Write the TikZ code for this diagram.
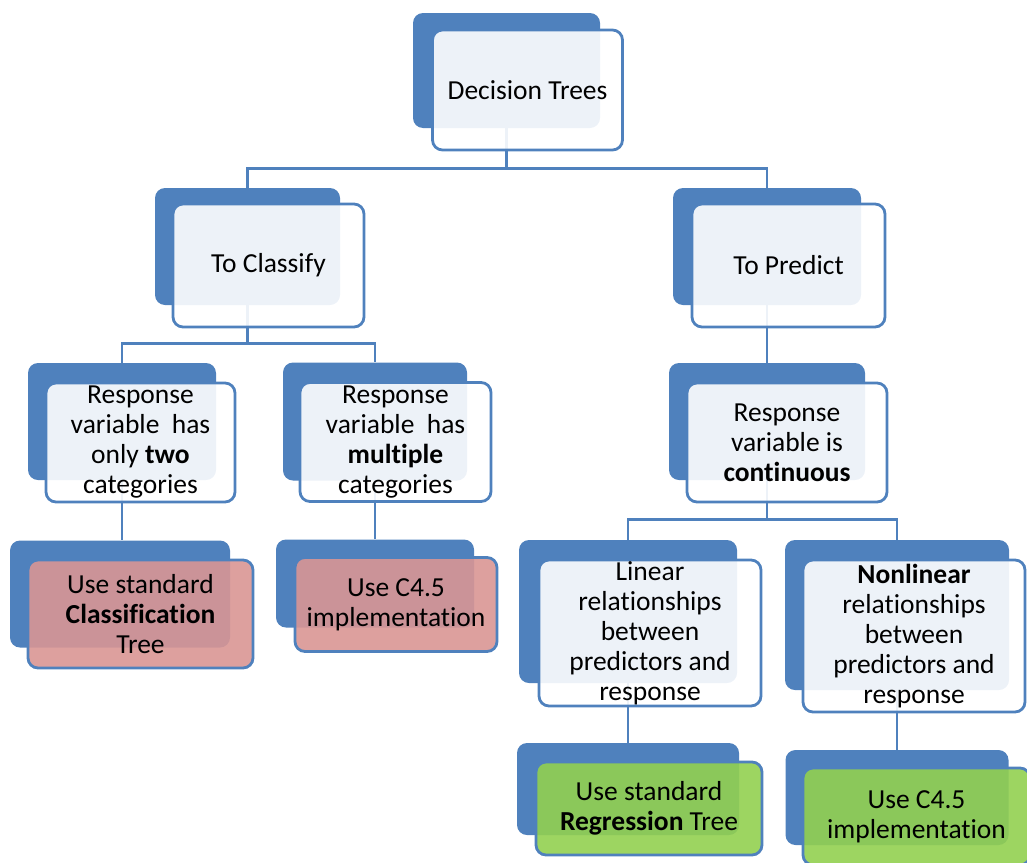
\documentclass[tikz,border=0pt]{standalone}
\usepackage{fontspec}
\setmainfont{Carlito}[Ligatures=CommonOff, Contextuals=AlternateOff, RawFeature={-dlig}]
\usetikzlibrary{positioning}
\definecolor{BackBlue}{HTML}{4F81BD}
\definecolor{LineBlue}{HTML}{4F81BD}
\definecolor{UseRed}{HTML}{D99694}
\definecolor{UseGreen}{HTML}{92D050}

\begin{document}
\begin{tikzpicture}[x=1pt, y=-1pt,
    back/.style={fill=BackBlue, rounded corners=10pt, inner sep=0pt},
    front/.style={draw=LineBlue, line width=2.8pt, rounded corners=10pt, fill=white, fill opacity=0.9, text opacity=1, inner sep=0pt, align=center, font=\fontsize{27.5}{30}\selectfont},
    link/.style={draw=LineBlue, line width=2.8pt}]
    \useasboundingbox (0,0) rectangle (1027,862);

    %% Back boxes
    \node at (506.5,70.5) [back, minimum width=187pt, minimum height=115pt](dt-b){};
    \node at (dt-b) [back, xshift=-259pt, yshift=-176pt, minimum width=185pt, minimum height=117pt](cls-b){};
    \node at (dt-b) [back, xshift=260.5pt, yshift=-176pt, minimum width=188pt, minimum height=117pt](prd-b){};
    \node at (cls-b) [back, xshift=-125.5pt, yshift=-175pt, minimum width=188pt, minimum height=117pt](two-b){};
    \node at (cls-b) [back, xshift=127.5pt, yshift=-175pt, minimum width=184pt, minimum height=118pt](mul-b){};
    \node at (prd-b) [back, yshift=-175pt, minimum width=196pt, minimum height=117pt](con-b){};
    \node at (con-b) [back, xshift=-139pt, yshift=-190pt, minimum width=218pt, minimum height=143pt](lin-b){};
    \node at (con-b) [back, xshift=130pt, yshift=-193.5pt, minimum width=224pt, minimum height=150pt](nol-b){};
    \node at (two-b) [back, xshift=-2pt, yshift=-172.5pt, minimum width=220pt, minimum height=107pt](cst-b){};
    \node at (mul-b) [back, yshift=-162pt, minimum width=198pt, minimum height=88pt](c45a-b){};
    \node at (lin-b) [back, yshift=-177.5pt, minimum width=222pt, minimum height=92pt](reg-b){};
    \node at (nol-b) [back, yshift=-182.5pt, minimum width=223pt, minimum height=95pt](c45b-b){};

    %% Links
    \draw [link] (dt-b.south) --++ (0,40) -| (cls-b.north);
    \draw [link] (dt-b.south) --++ (0,40) -| (prd-b.north);
    \draw [link] (cls-b.south) --++ (0,38) -| (two-b.north);
    \draw [link] (cls-b.south) --++ (0,38) -| (mul-b.north);
    \draw [link] (prd-b.south) -- (prd-b.south |- con-b.north);
    \draw [link] (con-b.south) --++ (0,39) -| (lin-b.north);
    \draw [link] (con-b.south) --++ (0,39) -| (nol-b.north);
    \draw [link] (two-b.south) -- (two-b.south |- cst-b.north);
    \draw [link] (mul-b.south) -- (mul-b.south |- c45a-b.north);
    \draw [link] (lin-b.south) -- (lin-b.south |- reg-b.north);
    \draw [link] (nol-b.south) -- (nol-b.south |- c45b-b.north);

    %% Front boxes
    \node at (dt-b) [front, xshift=21pt, yshift=-19.5pt, minimum width=190pt, minimum height=120pt](dt){Decision Trees};
    \node at (cls-b) [front, xshift=21pt, yshift=-19pt, minimum width=191pt, minimum height=123pt](cls){To Classify};
    \node at (prd-b) [front, xshift=21.5pt, yshift=-19pt, minimum width=193pt, minimum height=123pt](prd){To Predict};
    \node at (two-b) [front, xshift=18.5pt, yshift=-21pt, minimum width=189pt, minimum height=119pt](two){Response\\variable\ \ has\\only \textbf{two}\\categories};
    \node at (mul-b) [front, xshift=20.5pt, yshift=-20.5pt, minimum width=191pt, minimum height=119pt](mul){Response\\variable\ \ has\\\textbf{multiple}\\categories};
    \node at (con-b) [front, xshift=20pt, yshift=-21pt, minimum width=200pt, minimum height=119pt](con){Response\\variable is\\\textbf{continuous}};
    \node at (lin-b) [front, xshift=22pt, yshift=-21.5pt, minimum width=222pt, minimum height=146pt](lin){Linear\\relationships\\between\\predictors and\\response};
    \node at (nol-b) [front, xshift=17pt, yshift=-21pt, minimum width=222pt, minimum height=152pt](nol){\textbf{Nonlinear}\\relationships\\between\\predictors and\\response};
    \node at (cst-b) [front, fill=UseRed, xshift=20.5pt, yshift=-20pt, minimum width=225pt, minimum height=108pt](cst){Use standard\\\textbf{Classification}\\Tree};
    \node at (c45a-b) [front, fill=UseRed, xshift=21pt, yshift=-21pt, minimum width=202pt, minimum height=94pt](c45a){Use C4.5\\implementation};
    \node at (reg-b) [front, fill=UseGreen, xshift=21pt, yshift=-19.5pt, minimum width=226pt, minimum height=93pt](reg){Use standard\\\textbf{Regression} Tree};
    \node at (c45b-b) [front, fill=UseGreen, xshift=19.5pt, yshift=-19pt, minimum width=227pt, minimum height=97pt](c45b){Use C4.5\\implementation};
\end{tikzpicture}
\end{document}
